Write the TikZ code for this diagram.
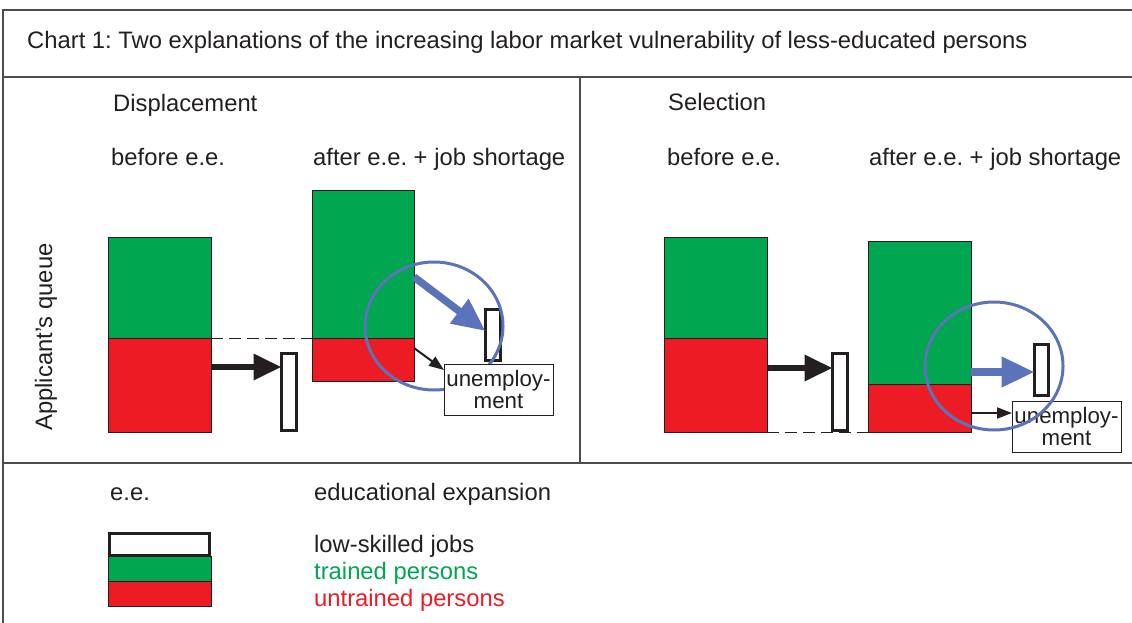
\documentclass[tikz,border=0pt]{standalone}
\usepackage{fontspec}
\setmainfont{Liberation Sans}
\usetikzlibrary{arrows.meta,shapes.geometric}
\definecolor{tgreen}{HTML}{00A650}
\definecolor{ured}{HTML}{ED1C24}
\definecolor{cblue}{HTML}{5B73B9}
\definecolor{ink}{HTML}{231F20}
\definecolor{frame}{HTML}{4D4D4D}
\frenchspacing
\begin{document}
\begin{tikzpicture}[x=1pt,y=-1pt,
  box/.style={rectangle, inner sep=0pt, outer sep=0pt, anchor=north west},
  gbar/.style={box, fill=tgreen, draw=ink, line width=0.8pt},
  rbar/.style={box, fill=ured, draw=ink, line width=0.8pt},
  jobbox/.style={box, fill=white, draw=ink, line width=3pt},
  unemp/.style={box, fill=white, draw=ink, line width=0.8pt, minimum width=109pt, minimum height=51pt,
    align=center, text=ink, font=\fontsize{22.3}{22}\selectfont},
  lbl/.style={inner sep=0pt, anchor=base west, text=ink, font=\fontsize{23.8}{28}\selectfont},
  framel/.style={draw=frame, line width=1.3pt},
  bigarrow/.style={draw=ink, line width=6.5pt, -{Triangle[length=28pt,width=25pt]}},
  bluearrow/.style={draw=cblue, line width=7.5pt, -{Triangle[length=33pt,width=29pt]}},
  smallarrow/.style={draw=ink, line width=2pt, -{Triangle[length=15pt,width=11pt]}},
  ring/.style={draw=cblue, line width=3pt},
  dashl/.style={draw=ink, line width=1pt, dash pattern=on 12pt off 6pt}
]
\useasboundingbox (0,0) rectangle (1132,623);
% frame
\draw[framel] (3,623) -- (3,10) -- (1132,10);
\draw[framel] (3,77) -- (1132,77);
\draw[framel] (3,463) -- (1132,463);
\draw[framel] (580,77) -- (580,463);

% texts
\node[lbl] (title) at (27,49) {Chart 1: Two explanations of the increasing labor market vulnerability of less-educated persons};
\node[lbl] (disp) at (113,112) {Displacement};
\node[lbl] (sel) at (668,111) {Selection};
\node[lbl] (bef1) at (111,165) {before e.e.};
\node[lbl] (aft1) at (313,165) {after e.e. + job shortage};
\node[lbl] (bef2) at (667,165) {before e.e.};
\node[lbl] (aft2) at (869,165) {after e.e. + job shortage};
\node[lbl, anchor=base west, rotate=90] (queue) at (52,431) {Applicant’s queue};

% ---- Displacement panel
\node[gbar, minimum width=103pt, minimum height=101pt] (g1) at (108,237) {};
\node[rbar, minimum width=103pt, minimum height=94pt] (r1) at (108,338) {};
\node[gbar, minimum width=102pt, minimum height=148pt] (g2) at (312,190) {};
\node[rbar, minimum width=102pt, minimum height=43pt] (r2) at (312,338) {};
\draw[dashl] (r1.north east) -- (r2.north west);
\node[jobbox, minimum width=15pt, minimum height=77pt] (j1) at (281.5,353.5) {};
\draw[bigarrow] (r1.east |- 0,367) -- (j1.west |- 0,367);
\node[jobbox, minimum width=15pt, minimum height=51pt] (j2) at (485.5,309.5) {};
\node[ring, ellipse, minimum width=138pt, minimum height=128pt, inner sep=0pt] (c1) at (434,326) {};
\node[unemp] (u1) at (444,364) {unemploy-\\ment};
\draw[bluearrow] (g2.east |- 0,277) -- (j2.west |- 0,331);
\draw[smallarrow] (r2.east |- 0,348) -- (u1.west |- 0,370);

% ---- Selection panel
\node[gbar, minimum width=103pt, minimum height=101pt] (g3) at (664,237) {};
\node[rbar, minimum width=103pt, minimum height=94pt] (r3) at (664,338) {};
\node[gbar, minimum width=103pt, minimum height=143pt] (g4) at (868,241) {};
\node[rbar, minimum width=103pt, minimum height=48pt] (r4) at (868,384) {};
\draw[dashl] (r3.south east) -- (r4.south west);
\node[jobbox, minimum width=15pt, minimum height=77pt] (j3) at (832.5,353.5) {};
\draw[bigarrow] (r3.east |- 0,368) -- (j3.west |- 0,368);
\node[jobbox, minimum width=14pt, minimum height=51pt] (j4) at (1034.5,344.5) {};
\node[unemp] (u2) at (1012,401) {unemploy-\\ment};
\node[ring, ellipse, minimum width=138pt, minimum height=128pt, inner sep=0pt] (c2) at (994,366) {};
\draw[bluearrow] (g4.east |- 0,372) -- (j4.west |- 0,372);
\draw[smallarrow] (r4.east |- 0,413) -- (u2.west |- 0,413);

% ---- Legend
\node[lbl] (ee) at (110,500) {e.e.};
\node[lbl] (eedef) at (314,500) {educational expansion};
\node[jobbox, minimum width=100pt, minimum height=22pt] (lj) at (109.5,533.5) {};
\node[gbar, minimum width=103pt, minimum height=25pt] (lg) at (108,556) {};
\node[rbar, minimum width=103pt, minimum height=25pt] (lr) at (108,581) {};
\node[lbl] (ljt) at (314,552) {low-skilled jobs};
\node[lbl, text=tgreen] (lgt) at (314,579) {trained persons};
\node[lbl, text=ured] (lrt) at (314,606) {untrained persons};
\end{tikzpicture}
\end{document}
